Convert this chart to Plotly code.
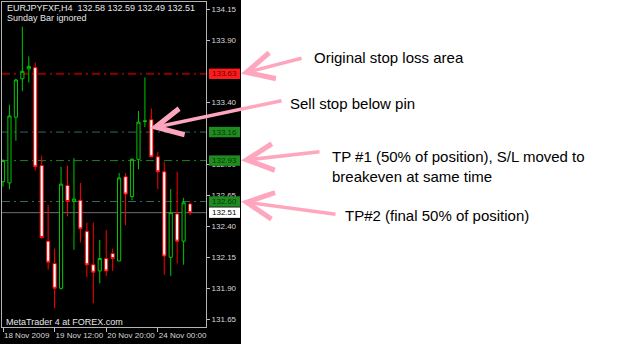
import plotly.graph_objects as go

# ---------------- data ----------------
bar_index = list(range(30))
opens = [132.76, 132.75, 133.28, 133.59, 133.67, 133.68, 132.89, 132.28, 132.10, 131.90,
         132.73, 132.60, 132.61, 132.36, 132.09, 132.04, 132.14, 132.18, 132.12, 132.80,
         132.64, 132.94, 133.245, 133.26, 132.96, 132.84, 132.15, 132.50, 132.28, 132.58]
highs = [132.94, 133.38, 133.59, 134.01, 133.77, 133.72, 132.97, 132.57, 132.22, 132.88,
         132.89, 132.95, 132.75, 132.43, 132.43, 132.29, 132.37, 132.22, 132.83, 132.83,
         132.95, 133.33, 133.60, 133.35, 133.00, 132.92, 132.70, 132.84, 132.63, 132.59]
lows = [132.72, 132.70, 133.09, 133.49, 133.56, 132.85, 132.30, 132.05, 131.74, 131.89,
        132.48, 132.21, 132.27, 131.99, 131.78, 131.94, 132.00, 132.04, 132.12, 132.41,
        132.61, 132.86, 133.20, 132.96, 132.70, 132.01, 132.00, 132.10, 132.09, 132.49]
closes = [132.93, 133.29, 133.58, 133.65, 133.69, 132.88, 132.31, 132.11, 131.90, 132.74,
          132.60, 132.62, 132.38, 132.09, 132.03, 132.14, 132.04, 132.14, 132.79, 132.66,
          132.94, 133.24, 133.25, 132.96, 132.84, 132.16, 132.51, 132.28, 132.59, 132.51]

time_tick_index = [0, 8, 16, 24]
time_tick_text = ["18 Nov 2009", "19 Nov 12:00", "20 Nov 20:00", "24 Nov 00:00"]
# 133.65 and 133.15 sit fully under the price tags in the reference
price_ticks = [131.65, 131.90, 132.15, 132.40, 132.65, 132.90, 133.40, 133.90, 134.15]

level_prices = [133.63, 133.16, 132.93, 132.60, 132.51]
level_labels = ["133.63", "133.16", "132.93", "132.60", "132.51"]
level_colors = ["#8c0000", "#2c6a62", "#1f7f1f", "#2c6a6a", "#6e6e78"]
level_widths = [2, 1, 1, 1, 1]
level_dashes = ["8px,4px,2px,4px", "8px,4px,2px,4px", "8px,4px,2px,4px", "8px,4px,2px,4px", "solid"]
tag_fills = ["#ff1c1c", "#1f8c1f", "#1f8c1f", "#1f8c1f", "#ffffff"]
tag_font_colors = ["#6e0000", "#0a380a", "#0a380a", "#0a380a", "#000000"]

header_text = "EURJPYFXF,H4\u00a0\u00a0132.58 132.59 132.49 132.51"
sub_text = "Sunday Bar ignored"
footer_text = "MetaTrader 4 at FOREX.com"

notes = ["Original stop loss area", "Sell stop below pin",
         "TP #1 (50% of position), S/L moved to<br>breakeven at same time",
         "TP#2 (final 50% of position)"]

# ---------------- layout geometry ----------------
W, H = 625, 344
PL, PR, PT, PB = 2, 206, 2, 327  # plot area in pixels
Y_LO, Y_HI = 131.588, 134.209
X_LO, X_HI = -0.155, 31.47


def px(x):
    return (x - PL) / (PR - PL)


def py(y):
    return (PB - y) / (PB - PT)


fig = go.Figure()
fig.add_trace(go.Candlestick(
    x=bar_index, open=opens, high=highs, low=lows, close=closes,
    increasing=dict(line=dict(color="#00c800", width=1), fillcolor="#000000"),
    decreasing=dict(line=dict(color="#ff0000", width=1), fillcolor="#ffffff"),
    whiskerwidth=0, showlegend=False, hoverinfo="skip",
))

shapes = []
# black chart window background
shapes.append(dict(type="rect", xref="paper", yref="paper", x0=px(0), x1=px(241),
                   y0=py(H), y1=py(0), fillcolor="#000000", line=dict(width=0), layer="below"))
# horizontal levels
for p, c, w, d in zip(level_prices, level_colors, level_widths, level_dashes):
    shapes.append(dict(type="line", xref="paper", yref="y", x0=0, x1=1, y0=p, y1=p,
                       line=dict(color=c, width=w, dash=d), layer="below"))
# price tags on axis
half = 5.2 / 124.0
for p, f in zip(level_prices, tag_fills):
    shapes.append(dict(type="rect", xref="paper", yref="y", x0=px(209), x1=px(240),
                       y0=p - half, y1=p + half, fillcolor=f, line=dict(width=0), layer="above"))

annotations = []
for p, lab, fc in zip(level_prices, level_labels, tag_font_colors):
    annotations.append(dict(xref="paper", yref="y", x=px(224.5), y=p, text=lab, showarrow=False,
                            xanchor="center", yanchor="middle",
                            font=dict(family="Liberation Sans, Arial", size=8, color=fc)))

small_font = dict(family="Liberation Sans, Arial", size=9, color="#e6e6e6")
annotations.append(dict(xref="paper", yref="paper", x=px(5), y=py(8), text=header_text,
                        showarrow=False, xanchor="left", yanchor="middle", font=small_font))
annotations.append(dict(xref="paper", yref="paper", x=px(5), y=py(17.5), text=sub_text,
                        showarrow=False, xanchor="left", yanchor="middle", font=small_font))
annotations.append(dict(xref="paper", yref="paper", x=px(4), y=py(322), text=footer_text,
                        showarrow=False, xanchor="left", yanchor="middle", font=small_font))

# pink arrows (tip position, tail offset in pixels)
pink = "#ffa6bf"
arrow_specs = [(px(241), 133.63, 62, -16),
               (px(150), 133.19, 133, -28),
               (px(241), 132.93, 80, -9),
               (px(241), 132.60, 96, 13)]
for x, y, ax, ay in arrow_specs:
    annotations.append(dict(xref="paper", yref="y", x=x, y=y, ax=ax, ay=ay, text="",
                            showarrow=True, arrowhead=5, arrowsize=1.5, arrowwidth=3.5,
                            arrowcolor=pink, standoff=0))

note_font = dict(family="Liberation Sans, Arial", size=15, color="#000000")
note_pos = [(312, 58), (288, 103), (330, 166), (343, 215)]
for t, (x, y) in zip(notes, note_pos):
    annotations.append(dict(xref="paper", yref="paper", x=px(x), y=py(y), text=t,
                            showarrow=False, xanchor="left", yanchor="middle", align="left",
                            font=note_font))

fig.update_layout(
    width=W, height=H,
    margin=dict(l=PL, r=W - PR, t=PT, b=H - PB, pad=0, autoexpand=False),
    paper_bgcolor="#ffffff", plot_bgcolor="#000000",
    shapes=shapes, annotations=annotations,
    showlegend=False,
    xaxis=dict(range=[X_LO, X_HI], rangeslider=dict(visible=False), showgrid=False,
               zeroline=False, tickmode="array", tickvals=time_tick_index, ticktext=time_tick_text,
               ticks="outside", ticklen=4, tickcolor="#c0c0c0", ticklabelposition="outside right",
               tickangle=0, automargin=False,
               tickfont=dict(family="Liberation Sans, Arial", size=8, color="#d8d8d8"),
               showline=True, linecolor="#b4b4b4", linewidth=1, mirror=True),
    yaxis=dict(range=[Y_LO, Y_HI], side="right", showgrid=False, zeroline=False,
               tickmode="array", tickvals=price_ticks, tickformat=".2f",
               ticks="outside", ticklen=3, tickcolor="#c0c0c0", automargin=False,
               tickfont=dict(family="Liberation Sans, Arial", size=8, color="#d8d8d8"),
               showline=True, linecolor="#b4b4b4", linewidth=1, mirror=True),
)

fig.write_html("out.html")
